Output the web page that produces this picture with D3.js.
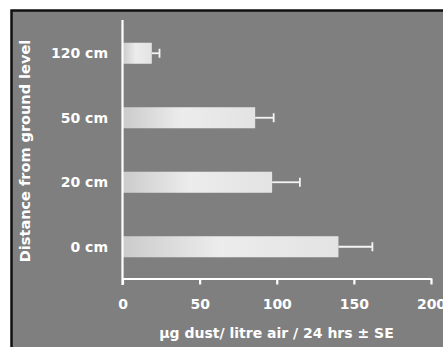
<!DOCTYPE html>
<meta charset="utf-8">
<style>
  body { margin: 0; background: #fff; }
  text { font-family: "DejaVu Sans", sans-serif; font-weight: bold; fill: #fff; }
</style>
<script src="https://d3js.org/d3.v7.min.js"></script>
<div id="chart"></div>
<script>

// data, top to bottom
var heights = ["120 cm", "50 cm", "20 cm", "0 cm"];
var dust = [19, 86, 97, 140];
var se = [5, 12, 18, 22];
var xTicks = [0, 50, 100, 150, 200];

var width = 443, height = 347;

var svg = d3.select("#chart")
  .append("svg")
    .attr("width", width)
    .attr("height", height);

// panel with black frame (cut off on right and bottom)
svg.append("rect")
  .attr("x", 11.5).attr("y", 10.5)
  .attr("width", 460).attr("height", 360)
  .attr("fill", "#7f7f7f")
  .attr("stroke", "#111")
  .attr("stroke-width", 2.5);

var x = d3.scaleLinear()
  .domain([0, 200])
  .range([122.5, 431]);

var y = d3.scaleBand()
  .domain(heights)
  .range([21, 279])
  .paddingInner(0.674)
  .paddingOuter(0.337);

// gradient for bars
var grad = svg.append("defs").append("linearGradient")
  .attr("id", "barGrad")
  .attr("x1", "0%").attr("x2", "100%");
grad.append("stop").attr("offset", "0%").attr("stop-color", "#cbcbcb");
grad.append("stop").attr("offset", "45%").attr("stop-color", "#ececec");
grad.append("stop").attr("offset", "100%").attr("stop-color", "#e3e3e3");

var rows = heights.map(function(h, i) { return {h: h, v: dust[i], e: se[i]}; });

// bars
svg.selectAll(".bar")
  .data(rows)
  .enter()
  .append("rect")
    .attr("class", "bar")
    .attr("x", x(0))
    .attr("y", function(d) { return y(d.h); })
    .attr("width", function(d) { return x(d.v) - x(0); })
    .attr("height", y.bandwidth())
    .attr("fill", "url(#barGrad)");

// error bars
svg.selectAll(".err")
  .data(rows)
  .enter()
  .append("line")
    .attr("x1", function(d) { return x(d.v); })
    .attr("x2", function(d) { return x(d.v + d.e); })
    .attr("y1", function(d) { return y(d.h) + y.bandwidth() / 2; })
    .attr("y2", function(d) { return y(d.h) + y.bandwidth() / 2; })
    .attr("stroke", "#f4f4f4")
    .attr("stroke-width", 1.8);

svg.selectAll(".cap")
  .data(rows)
  .enter()
  .append("line")
    .attr("x1", function(d) { return x(d.v + d.e); })
    .attr("x2", function(d) { return x(d.v + d.e); })
    .attr("y1", function(d) { return y(d.h) + y.bandwidth() / 2 - 4.5; })
    .attr("y2", function(d) { return y(d.h) + y.bandwidth() / 2 + 4.5; })
    .attr("stroke", "#f4f4f4")
    .attr("stroke-width", 1.8);

// x axis
var xAxis = svg.append("g")
  .attr("transform", "translate(0,278.5)")
  .call(d3.axisBottom(x).tickValues(xTicks).tickSize(6).tickSizeOuter(0).tickPadding(15));
xAxis.select(".domain").attr("stroke", "#fff").attr("stroke-width", 2.2);
xAxis.selectAll(".tick line").attr("stroke", "#fff").attr("stroke-width", 2.2);
xAxis.selectAll(".tick text")
  .attr("fill", "#fff")
  .style("font-family", "DejaVu Sans, sans-serif")
  .style("font-weight", "bold")
  .style("font-size", "14px");

// y axis line
svg.append("line")
  .attr("x1", x(0)).attr("x2", x(0))
  .attr("y1", 20).attr("y2", 285)
  .attr("stroke", "#fff")
  .attr("stroke-width", 2.2);

// category labels
svg.selectAll(".ylab")
  .data(heights)
  .enter()
  .append("text")
    .attr("x", 108)
    .attr("y", function(d) { return y(d) + y.bandwidth() / 2; })
    .attr("dy", "0.36em")
    .attr("text-anchor", "end")
    .style("font-size", "14px")
    .text(function(d) { return d; });

// axis titles
svg.append("text")
  .attr("x", 276.5)
  .attr("y", 338)
  .attr("text-anchor", "middle")
  .style("font-size", "14px")
  .text("µg dust/ litre air / 24 hrs ± SE");

svg.append("text")
  .attr("transform", "translate(30,151) rotate(-90)")
  .attr("text-anchor", "middle")
  .style("font-size", "14.5px")
  .text("Distance from ground level");

</script>
